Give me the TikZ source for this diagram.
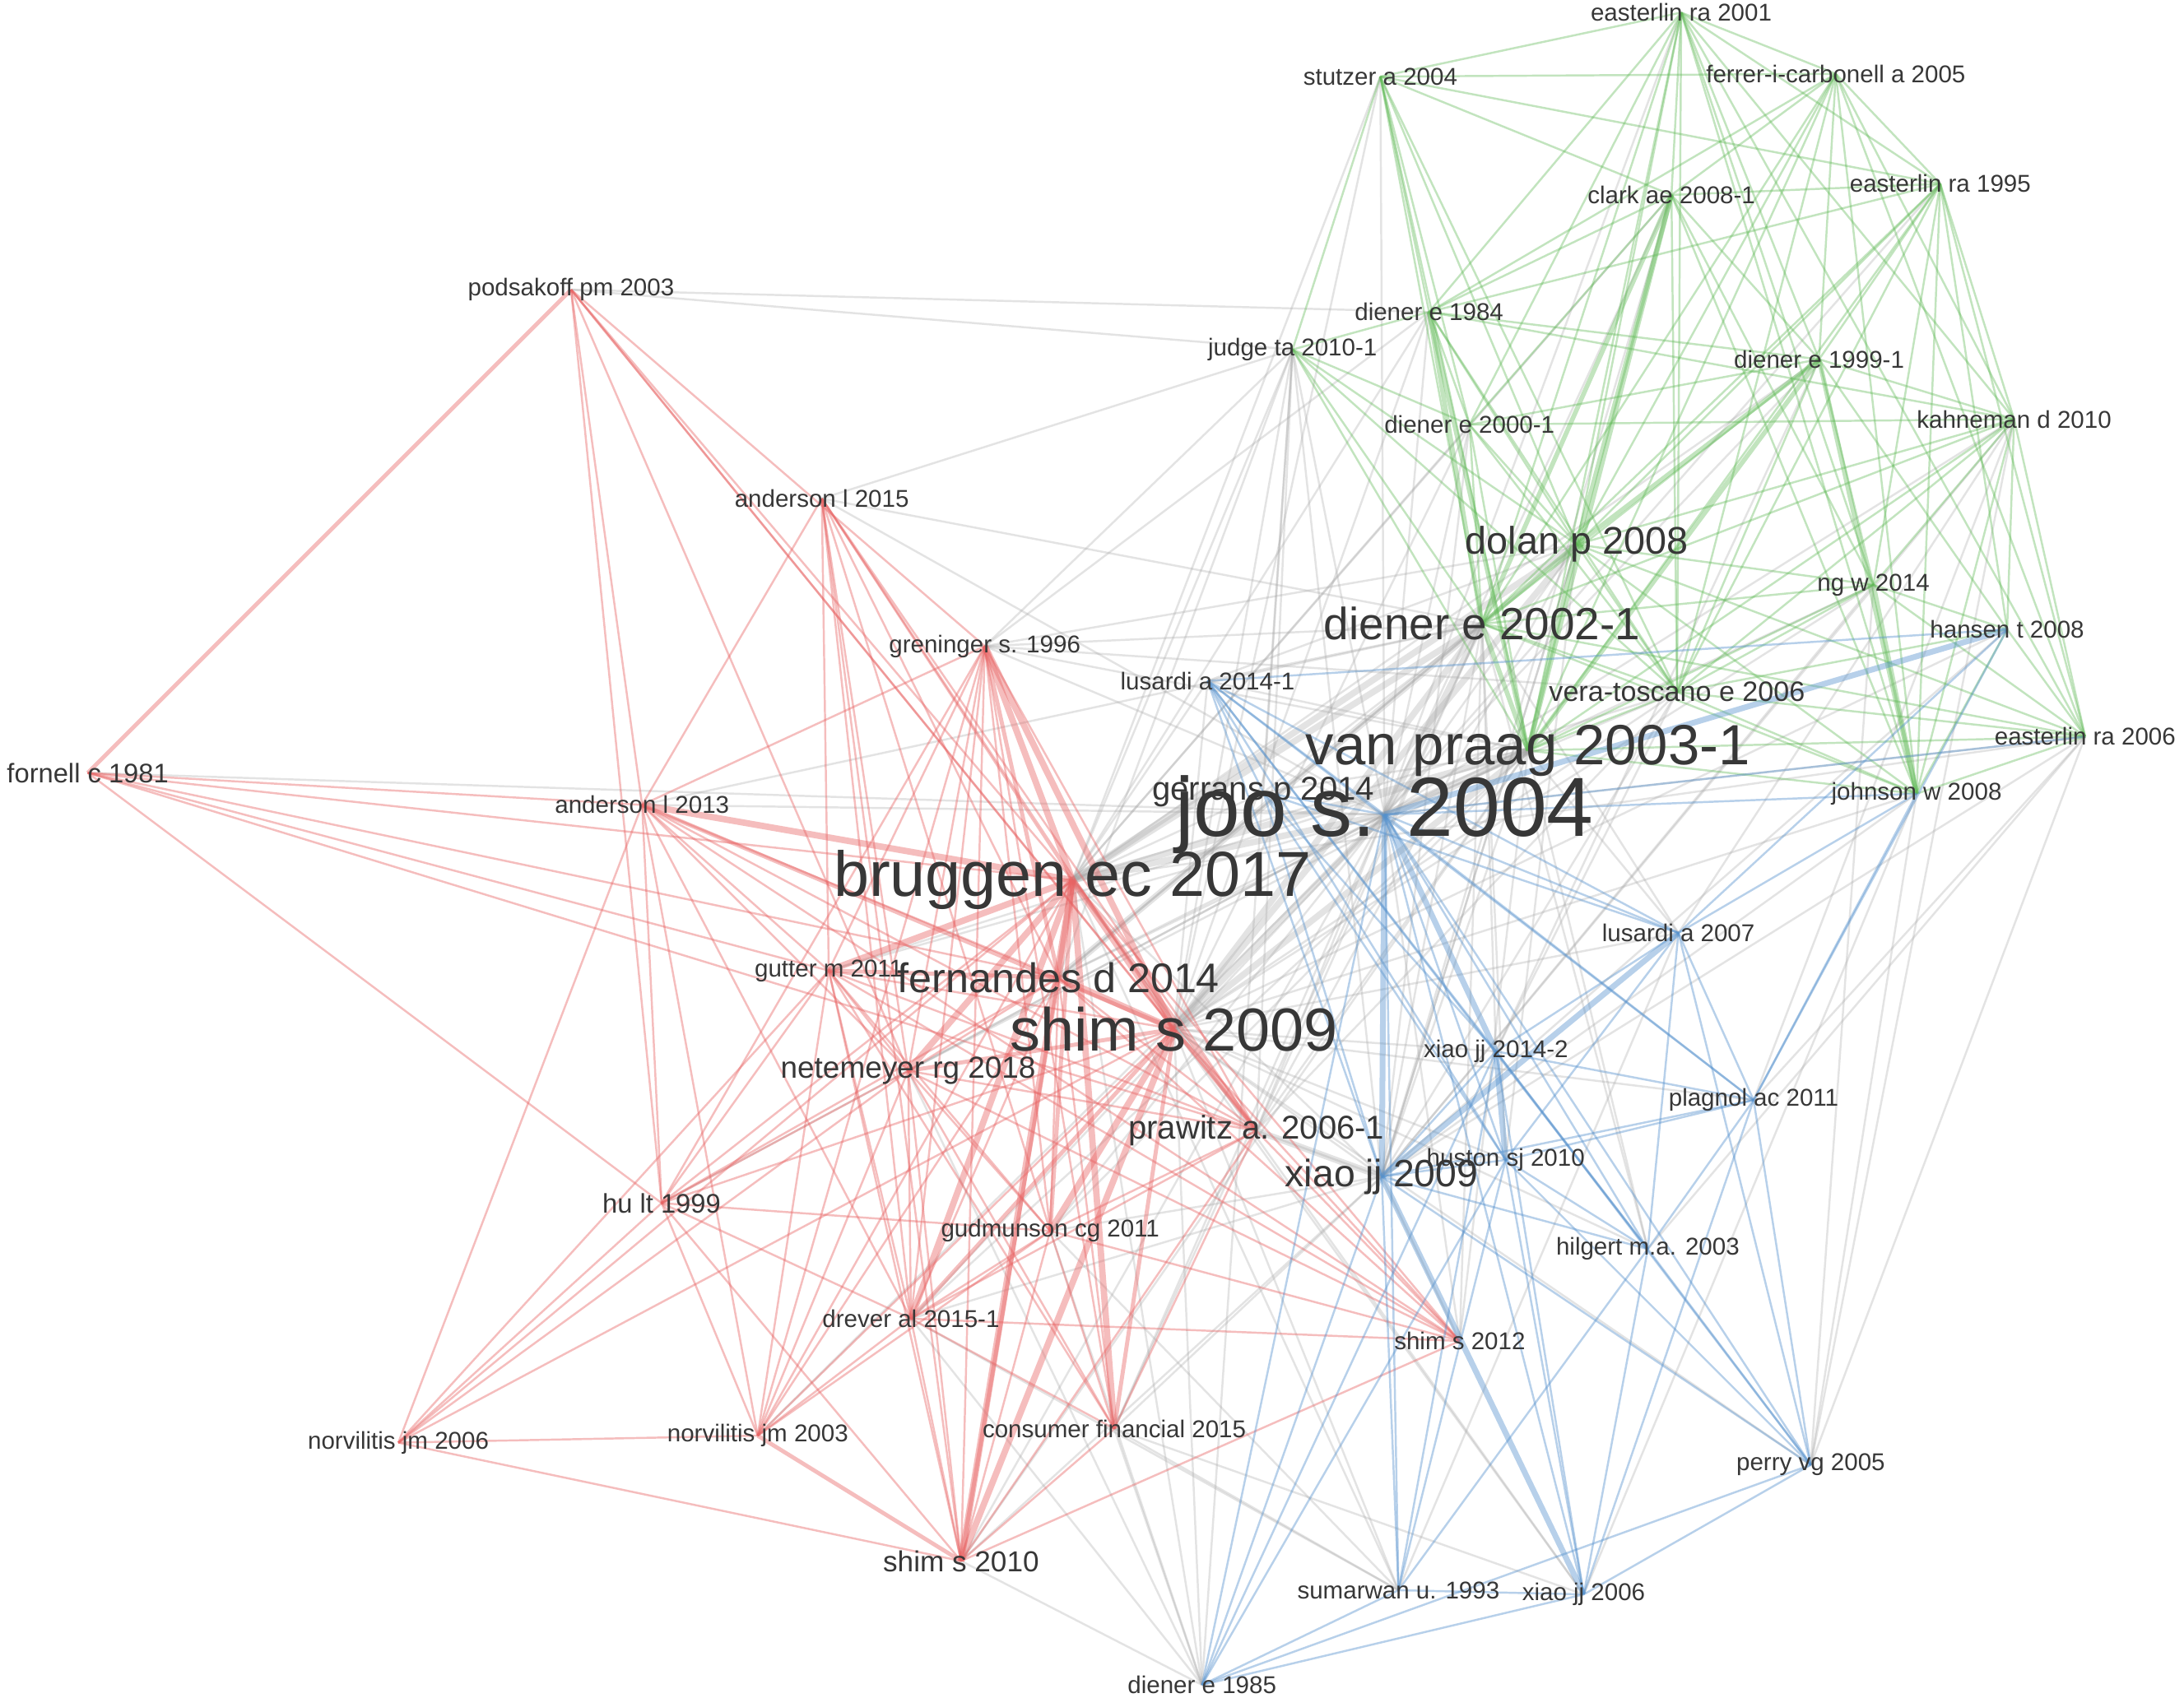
\documentclass[tikz,border=0pt]{standalone}
\usepackage{fontspec}
\setmainfont{Liberation Sans}
\pgfdeclarelayer{background}
\pgfsetlayers{background,main}
\definecolor{labelgray}{RGB}{55,55,55}
\definecolor{edgered}{RGB}{232,100,100}
\definecolor{edgegreen}{RGB}{95,185,85}
\definecolor{edgeblue}{RGB}{85,145,205}
\definecolor{edgegray}{RGB}{165,165,165}
\begin{document}
\begin{tikzpicture}[x=0.016926cm, y=-0.016926cm,
  lbl/.style={font=\fontsize{#1}{#1}\selectfont, text=labelgray, inner sep=0pt},
  lbl/.default=8.4,
  redge/.style={draw=edgered, draw opacity=0.42, line width=#1},
  redge/.default=0.7pt,
  gedge/.style={draw=edgegreen, draw opacity=0.38, line width=#1},
  gedge/.default=0.7pt,
  bedge/.style={draw=edgeblue, draw opacity=0.42, line width=#1},
  bedge/.default=0.7pt,
  xedge/.style={draw=edgegray, draw opacity=0.3, line width=#1},
  xedge/.default=0.7pt]
\useasboundingbox (0,0) rectangle (1568,1219);

\foreach \n/\x/\y/\t in {eas01/1207/9/easterlin ra 2001, stu04/991/55/stutzer a 2004,
    fer05/1318/53/ferrer-i-carbonell a 2005, cla08/1200/140/clark ae 2008-1,
    eas95/1393/132/easterlin ra 1995, die84/1026/224/diener e 1984,
    jud10/928/251/judge ta 2010-1, die99/1306/258/diener e 1999-1,
    kah10/1446/301/kahneman d 2010, die00/1055/305/diener e 2000-1,
    ngw14/1345/420/ng w 2014, han08/1441/452/hansen t 2008,
    eas06/1497/529/easterlin ra 2006, joh08/1376/570/johnson w 2008,
    lus14/867/489/lusardi a 2014-1, lus07/1205/670/lusardi a 2007,
    xia14/1074/755/xiao jj 2014-2, pla11/1259/790/plagnol ac 2011,
    hus10/1081/833/huston sj 2010, hil03/1183/897/hilgert m.a. 2003,
    per05/1300/1052/perry vg 2005, sum93/1004/1142/sumarwan u. 1993,
    xia06/1137/1145/xiao jj 2006, die85/863/1210/diener e 1985,
    pod03/410/208/podsakoff pm 2003, and15/590/358/anderson l 2015,
    gre96/707/464/greninger s. 1996, and13/461/578/anderson l 2013,
    gut11/595/697/gutter m 2011, gud11/754/884/gudmunson cg 2011,
    dre15/654/947/drever al 2015-1, shi12/1048/963/shim s 2012,
    nor06/286/1036/norvilitis jm 2006, nor03/544/1031/norvilitis jm 2003,
    con15/800/1026/consumer financial 2015}
  \node[lbl] (\n) at (\x,\y) {\t};

\node[lbl=29] (joo04) at (994,585) {joo s. 2004};
\node[lbl=22] (bru17) at (770,632) {bruggen ec 2017};
\node[lbl=21] (shi09) at (843,739) {shim s 2009};
\node[lbl=19.6] (van03) at (1097,539) {van praag 2003-1};
\node[lbl=15.6] (die02) at (1064,448) {diener e 2002-1};
\node[lbl=14.3] (fer14) at (760,702) {fernandes d 2014};
\node[lbl=13.3] (dol08) at (1132,391) {dolan p 2008};
\node[lbl=13.2] (xia09) at (992,845) {xiao jj 2009};
\node[lbl=11.4] (pra06) at (902,812) {prawitz a. 2006-1};
\node[lbl=11.4] (ger14) at (907,569) {gerrans p 2014};
\node[lbl=10.5] (net18) at (652,769) {netemeyer rg 2018};
\node[lbl=10] (shi10) at (690,1121) {shim s 2010};
\node[lbl=9.7] (ver06) at (1204,497) {vera-toscano e 2006};
\node[lbl=9.3] (for81) at (63,555) {fornell c 1981};
\node[lbl=9.3] (hul99) at (475,864) {hu lt 1999};

\begin{pgfonlayer}{background}
\fill[white] (0,0) rectangle (1568,1219);
\foreach \a/\b in {pod03/die84, pod03/jud10, and15/jud10, and15/joo04, jud10/bru17, jud10/shi09,
    jud10/fer14, jud10/gre96, jud10/pra06, jud10/joo04, jud10/xia09, jud10/ger14, for81/joo04,
    fer14/joo04, gre96/joo04, pra06/joo04, gud11/joo04, net18/joo04, dre15/joo04, con15/joo04,
    shi10/joo04, and13/joo04, gut11/joo04, hul99/joo04, nor03/joo04, bru17/die00,
    fer14/die02, gre96/die02, gre96/van03, pra06/van03, pra06/die02, shi10/van03, gre96/dol08,
    joo04/dol08, joo04/ver06, joo04/die00, joo04/die84, joo04/cla08, joo04/stu04,
    joo04/eas95, joo04/die99, joo04/kah10, joo04/ngw14, joo04/eas01, xia09/van03, xia09/die02,
    xia09/dol08, xia09/die00, xia09/ver06, xia09/shi09, xia09/bru17, xia09/pra06, xia14/shi09,
    hus10/shi09, lus07/shi09, lus14/bru17, lus14/shi09, ger14/bru17, die85/shi10, die85/shi09,
    die85/bru17, die85/con15, die85/gud11, sum93/shi09, sum93/bru17, sum93/con15, xia06/shi09,
    xia06/bru17, per05/shi09, hil03/shi09, pla11/shi09, shi12/joo04, shi12/xia09, van03/lus07,
    die02/xia14, dol08/xia09, lus07/die02, joh08/xia09, ngw14/xia09, kah10/xia09, eas06/xia09,
    eas06/joo04, joh08/per05, eas06/pla11, die02/shi12, die02/hil03, dol08/hus10, kah10/lus07,
    die99/xia14, cla08/xia09, stu04/shi09, die84/bru17, die00/shi09, ver06/xia14, ngw14/per05,
    jud10/die85, gud11/van03, con15/die02, dre15/van03, ver06/shi09, han08/xia09,
    gre96/die84, bru17/stu04, bru17/cla08, shi09/die84, fer14/dol08, pra06/dol08, net18/van03,
    gut11/van03, and13/die02, and15/die02, gre96/ver06, bru17/ver06, lus14/die02, lus14/van03,
    ger14/van03, ger14/die02, per05/eas06, per05/kah10, hil03/eas06, pla11/kah10, xia06/joh08,
    sum93/lus07, die85/net18, die85/dre15, sum93/gud11, sum93/dre15, xia06/con15, shi10/xia09,
    con15/xia09, gud11/xia09, dre15/xia09, fer14/van03, shi09/ngw14, bru17/die99, pra06/ver06,
    shi12/van03, hus10/die02, hil03/van03, eas06/bru17, joh08/shi09, han08/shi09, lus14/dol08}
  \draw[xedge] (\a.center) -- (\b.center);
\foreach \a/\b in {bru17/joo04, shi09/joo04, joo04/die02, joo04/van03, bru17/van03, bru17/die02,
    shi09/van03, shi09/die02, bru17/dol08, shi09/dol08, fer14/die02, pra06/xia09}
  \draw[xedge=2.2pt] (\a.center) -- (\b.center);

\foreach \a/\b in {pod03/and13, pod03/hul99, pod03/gre96, pod03/shi09, pod03/pra06, pod03/bru17,
    pod03/net18, for81/and13, for81/bru17, for81/fer14, for81/hul99, for81/gut11, for81/pra06,
    and15/and13, and15/gut11, and15/bru17, and15/shi09, and15/fer14, and15/pra06, and15/net18,
    and15/dre15, and15/shi10, and15/gud11, gre96/net18, gre96/dre15, gre96/gud11,
    gre96/con15, gre96/shi10, gre96/pra06, gre96/nor03, gre96/gut11, gre96/hul99, gre96/and13,
    and13/fer14, and13/gut11, and13/net18, and13/hul99, and13/pra06, and13/shi12,
    and13/dre15, and13/nor06, and13/nor03, gut11/shi09, gut11/net18, gut11/gud11,
    gut11/dre15, gut11/nor03, gut11/nor06, gut11/shi10, gut11/con15, gut11/pra06, gut11/hul99,
    gut11/shi12, net18/fer14, net18/dre15, net18/gud11, net18/nor03, net18/shi10,
    net18/con15, net18/pra06, net18/hul99, net18/nor06, net18/shi12, hul99/nor06, hul99/nor03,
    hul99/shi10, hul99/bru17, hul99/shi09, hul99/dre15, hul99/fer14, hul99/gud11, nor06/nor03,
    nor06/shi10, nor06/bru17, nor06/shi09, nor03/bru17, nor03/shi09, nor03/fer14,
    nor03/dre15, nor03/gud11, shi10/shi12, shi10/gud11, shi10/con15, shi10/dre15,
    shi10/pra06, dre15/fer14, dre15/con15, dre15/shi12, dre15/gud11, dre15/pra06,
    con15/fer14, con15/gud11, con15/pra06, gud11/fer14, gud11/shi12, gud11/pra06,
    shi12/shi09, shi12/bru17, shi12/pra06, shi12/fer14, pra06/fer14}
  \draw[redge] (\a.center) -- (\b.center);
\foreach \a/\b in {pod03/for81, gre96/fer14, and13/shi09, gut11/fer14, net18/shi09, gud11/bru17,
    pra06/bru17, pra06/shi09, nor03/shi10, dre15/shi09, con15/shi09, shi10/fer14}
  \draw[redge=1.4pt] (\a.center) -- (\b.center);
\foreach \a/\b in {gre96/bru17, bru17/shi09, bru17/fer14, shi09/fer14, gut11/bru17, net18/bru17,
    shi10/bru17, shi10/shi09, gre96/shi09, gud11/shi09, con15/bru17, dre15/bru17, and13/bru17}
  \draw[redge=2.2pt] (\a.center) -- (\b.center);

\foreach \a/\b in {eas01/stu04, eas01/fer05, eas01/cla08, eas01/eas95, eas01/die99, eas01/kah10,
    eas01/dol08, eas01/die02, eas01/van03, eas01/ver06, eas01/ngw14, eas01/joh08, eas01/eas06,
    eas01/die84, eas01/die00, stu04/fer05, stu04/die84, stu04/jud10, stu04/dol08, stu04/die02,
    stu04/van03, stu04/ver06, stu04/die00, stu04/cla08, stu04/eas95, fer05/cla08, fer05/eas95,
    fer05/die99, fer05/dol08, fer05/die02, fer05/van03, fer05/ver06, fer05/kah10, fer05/eas06,
    fer05/joh08, fer05/die84, cla08/eas95, cla08/ver06, cla08/die99, cla08/die84, cla08/joh08,
    cla08/die00, cla08/ngw14, eas95/die99, eas95/kah10, eas95/dol08, eas95/die02, eas95/van03,
    eas95/ver06, eas95/han08, eas95/eas06, eas95/joh08, eas95/die84, eas95/ngw14, die84/jud10,
    die84/die00, die84/dol08, die84/ver06, die84/die99, die84/kah10, jud10/die00, jud10/dol08,
    jud10/die02, jud10/van03, jud10/ver06, die99/kah10, die99/die02, die99/ver06, die99/ngw14,
    die99/han08, die99/die00, kah10/die00, kah10/dol08, kah10/die02, kah10/van03, kah10/ngw14,
    kah10/han08, kah10/eas06, kah10/joh08, kah10/ver06, die00/dol08, die00/die02, die00/van03,
    die00/ver06, dol08/ver06, dol08/ngw14, dol08/joh08, dol08/eas06, ngw14/die02,
    ngw14/van03, ngw14/ver06, ngw14/han08, ngw14/eas06, die02/ver06, die02/joh08, die02/eas06,
    han08/eas06, han08/joh08, han08/ver06, ver06/van03, ver06/joh08, ver06/eas06, eas06/van03,
    eas06/joh08, joh08/van03}
  \draw[gedge] (\a.center) -- (\b.center);
\foreach \a/\b in {cla08/dol08, cla08/die02, cla08/van03, die84/die02, die84/van03, die99/dol08,
    die99/van03, die99/joh08, ngw14/joh08, die02/van03, dol08/van03, dol08/die02}
  \draw[gedge=1.6pt] (\a.center) -- (\b.center);

\foreach \a/\b in {lus14/joo04, lus14/xia09, lus14/hus10, lus14/lus07, lus14/xia14, lus14/hil03,
    lus14/han08, lus14/ger14, lus14/pla11, joo04/hus10, joo04/lus07, joo04/pla11, joo04/hil03,
    joo04/per05, joo04/sum93, joo04/xia06, joo04/die85, joo04/joh08, joo04/eas06, joo04/ger14,
    ger14/xia09, ger14/xia14, ger14/hus10, ger14/lus07, lus07/xia14, lus07/hus10,
    lus07/hil03, lus07/pla11, lus07/per05, lus07/joh08, lus07/han08, xia14/xia09,
    xia14/pla11, xia14/hil03, xia14/per05, xia14/sum93, xia14/xia06, xia14/die85, pla11/hus10,
    pla11/xia09, pla11/han08, pla11/joh08, pla11/xia06, pla11/hil03, pla11/per05, hus10/xia09,
    hus10/hil03, hus10/per05, hus10/xia06, hus10/die85, hus10/sum93, xia09/hil03, xia09/per05,
    xia09/sum93, xia09/die85, hil03/per05, hil03/xia06, hil03/sum93, per05/xia06,
    per05/die85, sum93/xia06, sum93/die85, xia06/die85}
  \draw[bedge] (\a.center) -- (\b.center);
\foreach \a/\b in {joo04/xia09, joo04/xia14, joo04/han08, lus07/xia09, xia14/hus10, xia09/xia06}
  \draw[bedge=2pt] (\a.center) -- (\b.center);
\end{pgfonlayer}
\end{tikzpicture}
\end{document}
